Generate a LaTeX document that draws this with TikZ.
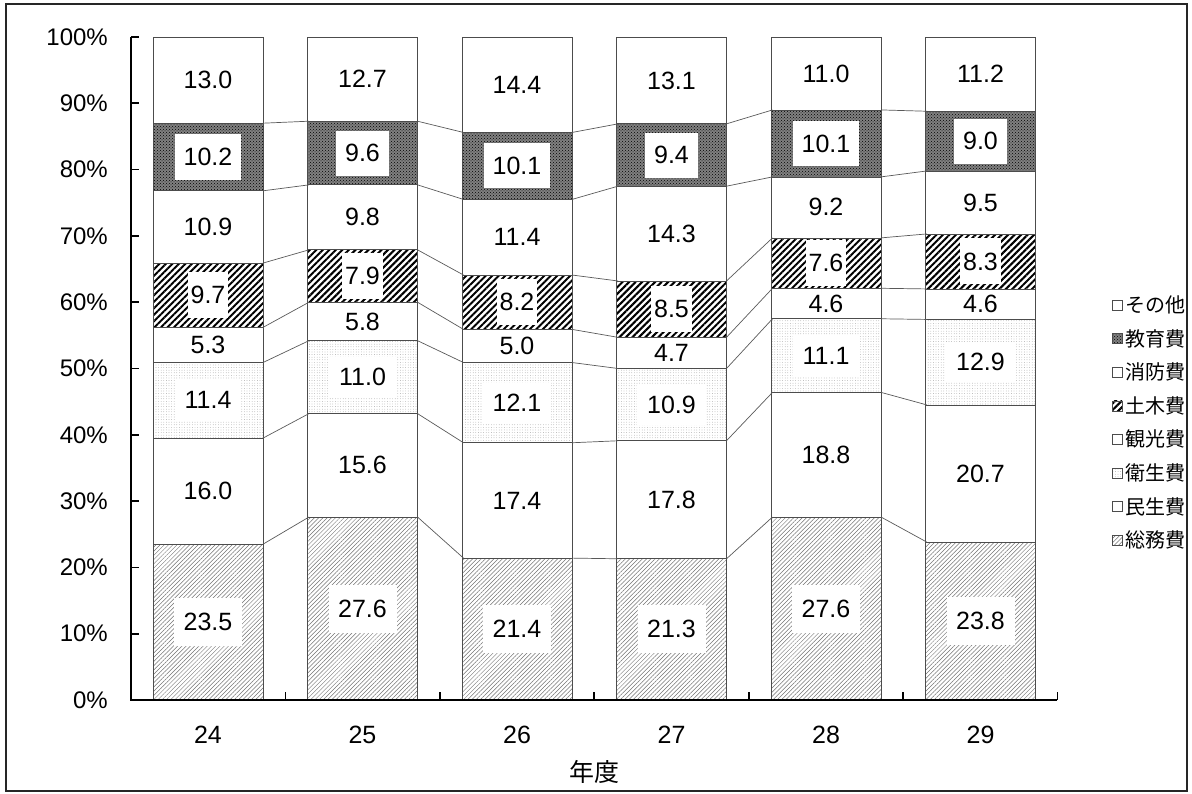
\documentclass[tikz,border=0pt]{standalone}
\usepackage{fontspec}
\setmainfont{Liberation Sans}
\newfontfamily\jp{Noto Sans CJK JP}
\usetikzlibrary{patterns,patterns.meta}
\newcommand\seg[7]{%
  \path[#4] ({153+154.5*#1},{700-6.63*#2}) rectangle ({263+154.5*#1},{700-6.63*#3});
  \draw[segline] ({153+154.5*#1},{700-6.63*#2}) rectangle ({263+154.5*#1},{700-6.63*#3});
  \node[lab,#5] (#6) at ({208+154.5*#1},{700-6.63*(#2+#3)/2}) {#7};
}
\newcommand\conn[1]{%
  \foreach \b in {0,...,4}{%
    \pgfmathsetmacro\ya{{#1}[\b]}%
    \pgfmathsetmacro\yb{{#1}[\b+1]}%
    \coordinate (ca) at ({263+154.5*\b},{700-6.63*\ya});
    \coordinate (cb) at ({309+154.5*\b},{700-6.63*\yb});
    \draw[cline] (ca) -- (cb);
  }%
}
\tikzset{
  segline/.style={draw=black!70, line width=0.7pt},
  cline/.style={draw=black!65, line width=0.7pt},
  axis/.style={draw=black, line width=1.8pt},
  lab/.style={font=\fontsize{25}{25}\selectfont, inner sep=0pt},
  somu/.style={pattern={Lines[angle=45,distance=3pt,line width=0.5pt]}, pattern color=black!55},
  white/.style={fill=white},
  eisei/.style={pattern={Dots[distance=2.6pt,radius=0.35pt]}, pattern color=black!45},
  doboku/.style={pattern={Lines[angle=45,distance=4.6pt,line width=2pt]}, pattern color=black},
  kyoiku/.style={fill=black!50, postaction={pattern=crosshatch dots, pattern color=black}},
  boxA/.style={fill=white, minimum width=68, minimum height=48},
  boxB/.style={fill=white, inner xsep=9pt, minimum height=45},
  boxC/.style={fill=white, inner xsep=3pt, minimum height=46},
  boxD/.style={fill=white, inner xsep=10pt, minimum height=40},
  boxN/.style={},
  ylab/.style={font=\fontsize{24}{24}\selectfont, anchor=east, inner sep=0pt},
  xlab/.style={font=\fontsize{25}{25}\selectfont, inner sep=0pt},
  leg/.style={font=\jp\fontsize{20}{20}\selectfont, anchor=west, inner sep=0pt},
  legbox/.style={draw=black!70, line width=0.6pt}
}
\begin{document}
\begin{tikzpicture}[x=1pt,y=-1pt]
\useasboundingbox (0,0) rectangle (1192,794);
\draw[line width=1.2pt, black!85] (6,4) rectangle (1187,791);

% 総務費
\foreach \b/\lo/\hi/\t in {0/0/23.5/23.5,1/0/27.6/27.6,2/0/21.4/21.4,3/0/21.3/21.3,4/0/27.6/27.6,5/0/23.8/23.8}
  {\seg{\b}{\lo}{\hi}{somu}{boxA}{s1b\b}{\t}}
% 民生費
\foreach \b/\lo/\hi/\t in {0/23.5/39.5/16.0,1/27.6/43.2/15.6,2/21.4/38.8/17.4,3/21.3/39.1/17.8,4/27.6/46.4/18.8,5/23.8/44.5/20.7}
  {\seg{\b}{\lo}{\hi}{white}{boxN}{s2b\b}{\t}}
% 衛生費
\foreach \b/\lo/\hi/\t in {0/39.5/50.9/11.4,1/43.2/54.2/11.0,2/38.8/50.9/12.1,3/39.1/50.0/10.9,4/46.4/57.5/11.1,5/44.5/57.4/12.9}
  {\seg{\b}{\lo}{\hi}{eisei}{boxD}{s3b\b}{\t}}
% 観光費
\foreach \b/\lo/\hi/\t in {0/50.9/56.2/5.3,1/54.2/60.0/5.8,2/50.9/55.9/5.0,3/50.0/54.7/4.7,4/57.5/62.1/4.6,5/57.4/62.0/4.6}
  {\seg{\b}{\lo}{\hi}{white}{boxN}{s4b\b}{\t}}
% 土木費
\foreach \b/\lo/\hi/\t in {0/56.2/65.9/9.7,1/60.0/67.9/7.9,2/55.9/64.1/8.2,3/54.7/63.2/8.5,4/62.1/69.7/7.6,5/62.0/70.3/8.3}
  {\seg{\b}{\lo}{\hi}{doboku}{boxC}{s5b\b}{\t}}
% 消防費
\foreach \b/\lo/\hi/\t in {0/65.9/76.8/10.9,1/67.9/77.7/9.8,2/64.1/75.5/11.4,3/63.2/77.5/14.3,4/69.7/78.9/9.2,5/70.3/79.8/9.5}
  {\seg{\b}{\lo}{\hi}{white}{boxN}{s6b\b}{\t}}
% 教育費
\foreach \b/\lo/\hi/\t in {0/76.8/87.0/10.2,1/77.7/87.3/9.6,2/75.5/85.6/10.1,3/77.5/86.9/9.4,4/78.9/89.0/10.1,5/79.8/88.8/9.0}
  {\seg{\b}{\lo}{\hi}{kyoiku}{boxB}{s7b\b}{\t}}
% その他
\foreach \b/\lo/\hi/\t in {0/87.0/100/13.0,1/87.3/100/12.7,2/85.6/100/14.4,3/86.9/100/13.1,4/89.0/100/11.0,5/88.8/100/11.2}
  {\seg{\b}{\lo}{\hi}{white}{boxN}{s8b\b}{\t}}

% series lines
\conn{23.5,27.6,21.4,21.3,27.6,23.8}
\conn{39.5,43.2,38.8,39.1,46.4,44.5}
\conn{50.9,54.2,50.9,50.0,57.5,57.4}
\conn{56.2,60.0,55.9,54.7,62.1,62.0}
\conn{65.9,67.9,64.1,63.2,69.7,70.3}
\conn{76.8,77.7,75.5,77.5,78.9,79.8}
\conn{87.0,87.3,85.6,86.9,89.0,88.8}

% axes
\coordinate (o) at (131,700);
\coordinate (yt) at (131,37);
\coordinate (xe) at (1057,700);
\draw[axis] (yt) -- (o) -- (xe);
\foreach \k in {0,...,10}{
  \coordinate (tk\k) at (131,{700-66.3*\k});
  \draw[axis] (tk\k) -- ++(8,0);
  \node[ylab] (yl\k) at (108,{700-66.3*\k}) {\pgfmathparse{int(10*\k)}\pgfmathresult\%};
}
\foreach \k in {1,...,6}{
  \coordinate (xt\k) at ({131+154.4*\k},700);
  \draw[axis] (xt\k) -- ++(0,-8);
}
\foreach \b/\t in {0/24,1/25,2/26,3/27,4/28,5/29}{
  \node[xlab] (xl\b) at ({208+154.5*\b},735) {\t};
}
\node[font=\jp\fontsize{25}{25}\selectfont, inner sep=0pt] (xtitle) at (594,772) {年度};

% legend
\foreach \k/\s/\t in {0/white/その他,1/kyoiku/教育費,2/white/消防費,3/doboku/土木費,4/white/観光費,5/eisei/衛生費,6/white/民生費,7/somu/総務費}{
  \path[\s] (1112,{300+33.6*\k}) rectangle (1122,{310+33.6*\k});
  \draw[legbox] (1112,{300+33.6*\k}) rectangle (1122,{310+33.6*\k});
  \node[leg] (lg\k) at (1125,{305+33.6*\k}) {\t};
}
\end{tikzpicture}
\end{document}
